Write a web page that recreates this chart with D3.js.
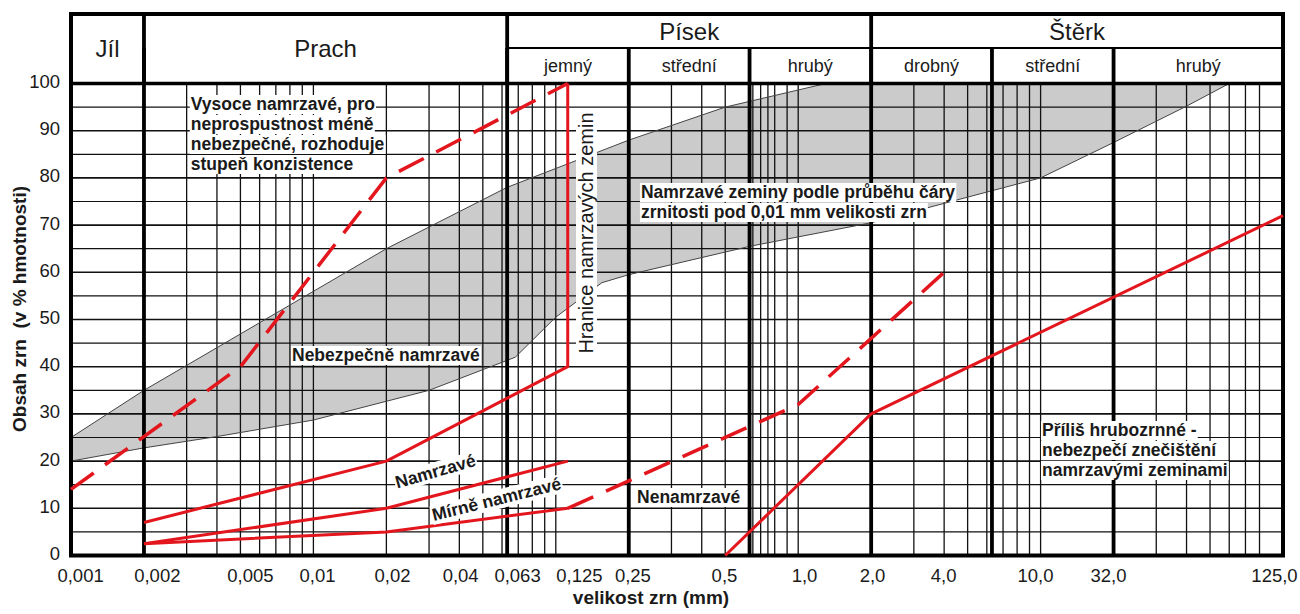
<!DOCTYPE html>
<html>
<head>
<meta charset="utf-8">
<script src="https://cdn.jsdelivr.net/npm/d3@7"></script>
<style>
  body { margin: 0; background: #fff; }
  text { font-family: "Liberation Sans", Arial, sans-serif; fill: #1a1a1a; }
</style>
</head>
<body>
<svg id="chart" width="1300" height="614"></svg>
<script>
// ---- data (grain size in mm, content in %) ----
const yTicks = [0, 10, 20, 30, 40, 50, 60, 70, 80, 90, 100];
const yGrid = [5, 10, 15, 20, 25, 30, 35, 40, 45, 50, 55, 60, 65, 70, 75, 80, 85, 90, 95];

// tick labels, and the grain size where each label sits on the original axis
const xTickLabels = ['0,001', '0,002', '0,005', '0,01', '0,02', '0,04', '0,063', '0,125',
                     '0,25', '0,5', '1,0', '2,0', '4,0', '10,0', '32,0', '125,0'];
const xTickAt = [0.00109, 0.00226, 0.00547, 0.01035, 0.0211, 0.0403, 0.0692, 0.1246,
                 0.207, 0.494, 1.057, 2.016, 3.96, 9.48, 18.97, 91.8];

const minorLines = [0.003, 0.004, 0.005, 0.006, 0.007, 0.008, 0.009, 0.01, 0.02, 0.03, 0.04, 0.05, 0.06,
                    0.07, 0.08, 0.09, 0.1, 0.3, 0.4, 0.5, 0.65, 0.7, 0.75, 0.8, 0.9, 1.0,
                    3, 4, 5, 6, 7, 8, 9, 10, 30, 40, 50, 60, 70, 80];
const majorLines = [0.002, 0.063, 0.2, 0.63, 2, 6.3, 20];

const groupNames = ['Jíl', 'Prach', 'Písek', 'Štěrk'];
const groupBounds = [0.001, 0.002, 0.063, 2, 100];
const subNames = ['jemný', 'střední', 'hrubý', 'drobný', 'střední', 'hrubý'];
const subBounds = [0.063, 0.2, 0.63, 2, 6.3, 20, 100];

// grey band
const bandUpperX = [0.001, 0.002, 0.02, 0.063, 0.2, 0.5, 1.3];
const bandUpperY = [25, 35, 65, 78, 88, 95, 100];
const bandLowerX = [0.001, 0.002, 0.004, 0.01, 0.03, 0.068, 0.1, 0.155, 0.2, 0.63, 2.0, 6.0, 10, 20, 40, 60];
const bandLowerY = [20, 22.8, 25.2, 28.7, 35, 42, 50.5, 57.8, 59.5, 65.5, 70.5, 77, 80, 87.5, 95.2, 100];

// red limit lines
const limitHighX = [0.002, 0.02, 0.112, 0.112];
const limitHighY = [7, 20, 40, 100];
const limitMidX = [0.002, 0.02, 0.112];
const limitMidY = [2.5, 10, 20];
const limitLowX = [0.002, 0.02, 0.112];
const limitLowY = [2.5, 5, 10];
const dashLeftX = [0.001, 0.005, 0.02, 0.112];
const dashLeftY = [14, 40, 80, 100];
const dashRightX = [0.112, 1.0, 4.0];
const dashRightY = [10, 32, 60];
const coarseX = [0.5, 2, 100];
const coarseY = [0, 30, 72];

// ---- layout ----
const svg = d3.select('#chart');
const headTop = 14, headMid = 48;

const x = d3.scaleLog().domain([0.001, 100]).range([71, 1283]);
const y = d3.scaleLinear().domain([0, 100]).range([555.5, 83.5]);

const zip = (xs, ys) => xs.map((v, i) => [v, ys[i]]);
const line = d3.line().x(d => x(d[0])).y(d => y(d[1]));

// grey band: upper edge, top border, lower edge back
const bandPts = zip(bandUpperX, bandUpperY).concat(zip(bandLowerX, bandLowerY).reverse());
svg.append('path')
    .attr('d', line(bandPts) + 'Z')
    .attr('fill', '#cbcbcb');

// horizontal grid
svg.append('g').selectAll('line')
    .data(yGrid)
    .enter()
    .append('line')
    .attr('x1', x(0.001)).attr('x2', x(100))
    .attr('y1', d => y(d)).attr('y2', d => y(d))
    .attr('stroke', '#111')
    .attr('stroke-width', d => d % 10 === 0 ? 1.6 : 1.2);

// thin vertical grid
svg.append('g').selectAll('line')
    .data(minorLines)
    .enter()
    .append('line')
    .attr('x1', d => x(d)).attr('x2', d => x(d))
    .attr('y1', y(0)).attr('y2', y(100))
    .attr('stroke', '#111')
    .attr('stroke-width', 1.3);

// band edges
[zip(bandUpperX, bandUpperY), zip(bandLowerX, bandLowerY)].forEach(pts => {
    svg.append('path')
        .attr('d', line(pts))
        .attr('fill', 'none')
        .attr('stroke', '#444')
        .attr('stroke-width', 1);
});

// thick vertical lines in plot
svg.append('g').selectAll('line')
    .data(majorLines)
    .enter()
    .append('line')
    .attr('x1', d => x(d)).attr('x2', d => x(d))
    .attr('y1', y(0)).attr('y2', headMid)
    .attr('stroke', '#000')
    .attr('stroke-width', 3.8);

// header frame
const frame = svg.append('g').attr('stroke', '#000').attr('fill', 'none');
frame.append('rect')
    .attr('x', x(0.001)).attr('y', headTop)
    .attr('width', x(100) - x(0.001)).attr('height', y(0) - headTop)
    .attr('stroke-width', 4);
frame.append('line')
    .attr('x1', x(0.001)).attr('x2', x(100))
    .attr('y1', y(100)).attr('y2', y(100))
    .attr('stroke-width', 3.5);
frame.append('line')
    .attr('x1', x(0.063)).attr('x2', x(100))
    .attr('y1', headMid).attr('y2', headMid)
    .attr('stroke-width', 1.8);
frame.selectAll('.gb')
    .data(groupBounds.slice(1, -1))
    .enter()
    .append('line')
    .attr('x1', d => x(d)).attr('x2', d => x(d))
    .attr('y1', headTop).attr('y2', y(100))
    .attr('stroke-width', 3.8);

// header text
groupNames.forEach((name, i) => {
    const spansBoth = i < 2;
    svg.append('text')
        .attr('x', (x(groupBounds[i]) + x(groupBounds[i + 1])) / 2)
        .attr('y', spansBoth ? 57 : 40)
        .attr('text-anchor', 'middle')
        .style('font-size', '24px')
        .text(name);
});
subNames.forEach((name, i) => {
    svg.append('text')
        .attr('x', (x(subBounds[i]) + x(subBounds[i + 1])) / 2)
        .attr('y', 72)
        .attr('text-anchor', 'middle')
        .style('font-size', '18px')
        .text(name);
});

// red lines
const red = '#e3161d';
[[limitHighX, limitHighY], [limitMidX, limitMidY], [limitLowX, limitLowY], [coarseX, coarseY]]
    .forEach(([xs, ys]) => {
        svg.append('path')
            .attr('d', line(zip(xs, ys)))
            .attr('fill', 'none')
            .attr('stroke', red)
            .attr('stroke-width', 3)
            .attr('stroke-linejoin', 'round');
    });
[[dashLeftX, dashLeftY], [dashRightX, dashRightY]].forEach(([xs, ys]) => {
    svg.append('path')
        .attr('d', line(zip(xs, ys)))
        .attr('fill', 'none')
        .attr('stroke', red)
        .attr('stroke-width', 3.5)
        .attr('stroke-dasharray', '28,14');
});

// axes
const xAxis = d3.axisBottom(x)
    .tickValues(xTickAt)
    .tickFormat((d, i) => xTickLabels[i])
    .tickSize(0)
    .tickPadding(0);
svg.append('g')
    .attr('transform', 'translate(0,569)')
    .call(xAxis)
    .call(g => g.select('.domain').remove())
    .selectAll('text')
    .attr('dy', '0.71em')
    .style('font-size', '18.5px')
    .style('font-family', '"Liberation Sans", Arial, sans-serif')
    .attr('fill', '#1a1a1a');

const yAxis = d3.axisLeft(y)
    .tickValues(yTicks)
    .tickSize(0)
    .tickPadding(11);
svg.append('g')
    .attr('transform', `translate(${x(0.001)},-2)`)
    .call(yAxis)
    .call(g => g.select('.domain').remove())
    .selectAll('text')
    .style('font-size', '18.5px')
    .style('font-family', '"Liberation Sans", Arial, sans-serif')
    .attr('fill', '#1a1a1a');

svg.append('text')
    .attr('x', 651).attr('y', 604)
    .attr('text-anchor', 'middle')
    .style('font-size', '19px')
    .style('font-weight', 'bold')
    .text('velikost zrn (mm)');

svg.append('text')
    .attr('transform', 'translate(26,309) rotate(-90)')
    .attr('text-anchor', 'middle')
    .style('font-size', '19px')
    .style('font-weight', 'bold')
    .style('white-space', 'pre')
    .text('Obsah zrn  (v % hmotnosti)');

// annotation with white background behind every line
function note(lines, px, py, opts = {}) {
    const g = svg.append('g')
        .attr('transform', `translate(${px},${py}) rotate(${opts.rotate || 0})`);
    lines.forEach((t, i) => {
        const tx = g.append('text')
            .attr('y', i * (opts.lineHeight || 20))
            .attr('text-anchor', opts.anchor || 'start')
            .style('font-size', (opts.size || 17.5) + 'px')
            .style('font-weight', opts.weight || 'bold')
            .attr('fill', '#262626')
            .text(t);
        const b = tx.node().getBBox();
        g.insert('rect', 'text')
            .attr('x', b.x - 1).attr('y', b.y + 1)
            .attr('width', b.width + 2).attr('height', b.height - 1)
            .attr('fill', '#fff');
    });
}

note(['Vysoce namrzavé, pro', 'neprospustnost méně', 'nebezpečné, rozhoduje', 'stupeň konzistence'],
     x(0.00312), 110);
note(['Nebezpečně namrzavé'], x(0.00816), 361);
note(['Hranice namrzavých zemin'], 593, 233, { rotate: -90, anchor: 'middle', weight: 'normal', size: 20 });
note(['Namrzavé zeminy podle průběhu čáry', 'zrnitosti pod 0,01 mm velikosti zrn'], x(0.2245), 198);
note(['Namrzavé'], 437, 477, { rotate: -16, anchor: 'middle' });
note(['Mírně namrzavé'], 498, 505, { rotate: -14, anchor: 'middle' });
note(['Nenamrzavé'], x(0.2163), 503);
note(['Příliš hrubozrnné -', 'nebezpečí znečištění', 'namrzavými zeminami'], x(10.13), 436);
</script>
</body>
</html>
